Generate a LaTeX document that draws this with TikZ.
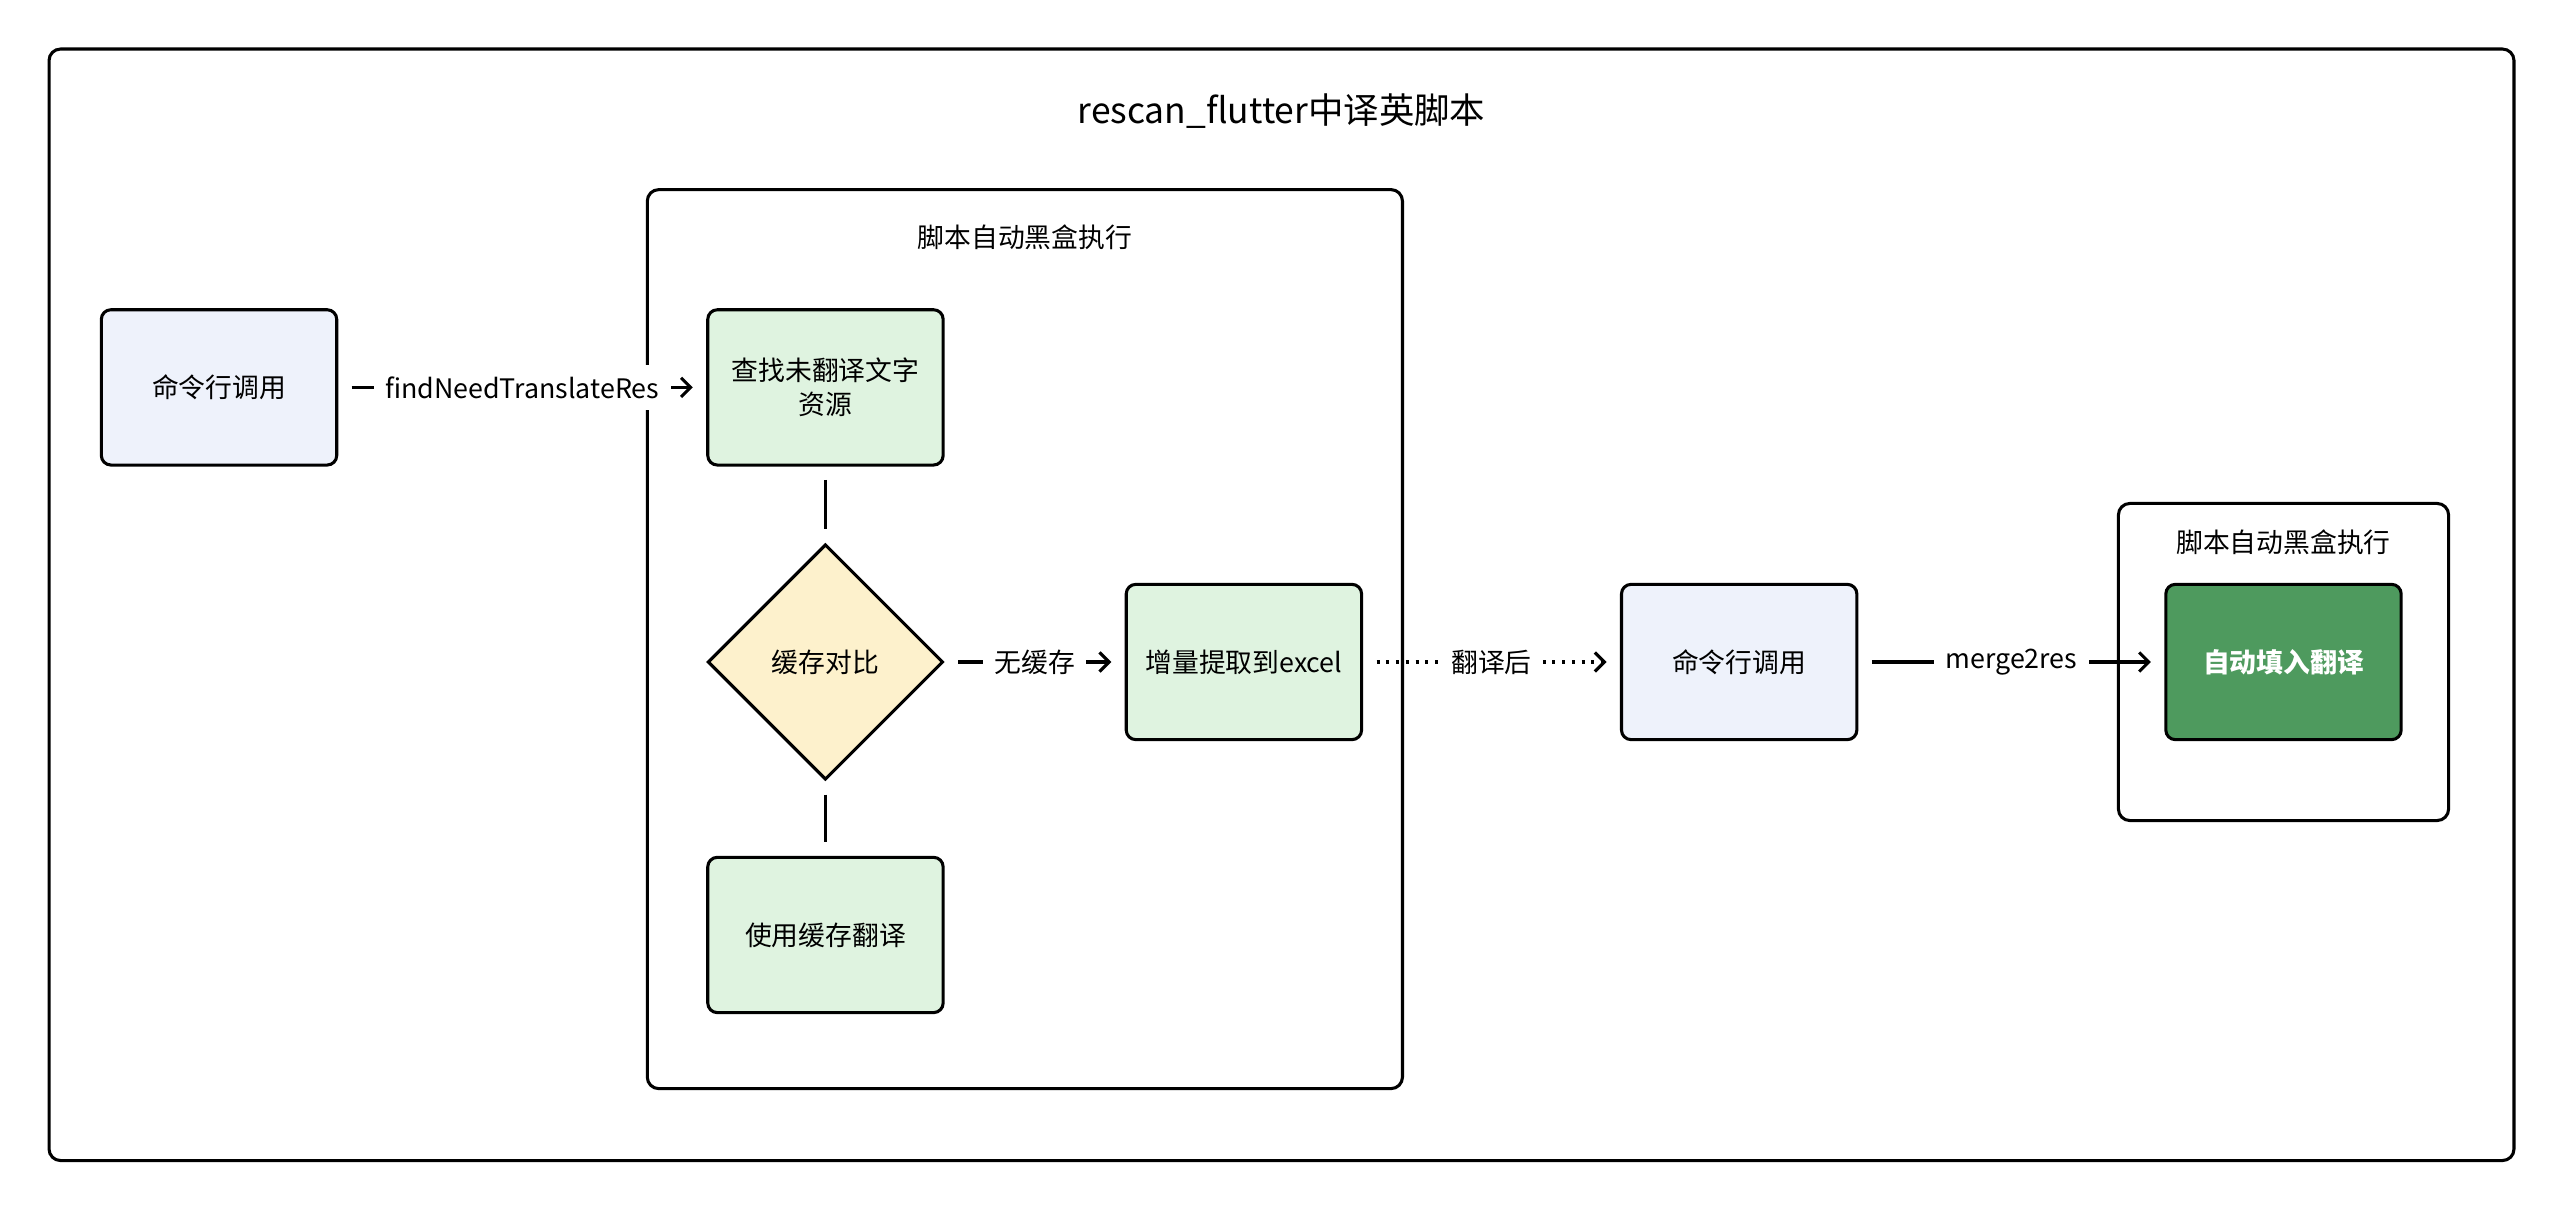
\documentclass[tikz,border=0pt]{standalone}
\usepackage{fontspec}
\setmainfont{Noto Sans CJK SC}
\usetikzlibrary{shapes.geometric, arrows, arrows.meta}
\definecolor{cmdblue}{HTML}{EEF2FB}
\definecolor{stepgreen}{HTML}{DFF3E0}
\definecolor{decyellow}{HTML}{FDF1CC}
\definecolor{darkgreen}{HTML}{4E9A5E}
\tikzstyle{frame} = [rectangle, rounded corners=6pt, draw=black, line width=1.6pt]
\tikzstyle{cmd} = [rectangle, rounded corners=5pt, 
minimum width=4.32cm, 
minimum height=2.85cm, 
text centered, 
draw=black, line width=1.6pt,
fill=cmdblue]
\tikzstyle{process} = [cmd, fill=stepgreen, text width=4cm]
\tikzstyle{decision} = [diamond, 
minimum width=4.32cm, 
minimum height=4.32cm, 
text centered, 
draw=black, line width=1.6pt,
fill=decyellow]
\tikzstyle{link} = [line width=1.6pt, shorten <=7pt, shorten >=7pt]
\tikzstyle{arrow} = [link,-{Straight Barb[length=5pt,width=10pt]}]
\tikzstyle{lbl} = [fill=white, inner sep=6pt]

\begin{document}
\begin{tikzpicture}[x=0.03cm, y=-0.03cm, font=\fontsize{14}{18}\selectfont]
\useasboundingbox (0,0) rectangle (1568,740);
\fill[white] (0,0) rectangle (1568,740);

\draw [frame] (30,30) rectangle (1538,710);
\node (title) at (784,68) {\fontsize{18.5}{22}\selectfont rescan\_flutter中译英脚本};
\draw [frame] (396,116) rectangle (858,666);
\node (grp1) at (627,145) {脚本自动黑盒执行};
\draw [frame] (1296,308) rectangle (1498,502);
\node (grp2) at (1397,332) {脚本自动黑盒执行};

\node (cmd1) [cmd] at (134,237) {命令行调用};
\node (find) [process] at (505,237) {查找未翻译文字\\资源};
\node (cmp) [decision] at (505,405) {缓存对比};
\node (use) [process] at (505,572) {使用缓存翻译};
\node (incr) [process] at (761,405) {增量提取到excel};
\node (cmd2) [cmd] at (1064,405) {命令行调用};
\node (fill) [cmd, fill=darkgreen, text=white, font=\fontsize{14}{18}\selectfont\bfseries] at (1397,405) {自动填入翻译};

\draw [arrow] (cmd1) -- node[lbl] {findNeedTranslateRes} (find);
\draw [link] (find) -- (cmp);
\draw [link] (cmp) -- (use);
\draw [arrow] (cmp) -- node[lbl] {无缓存} (incr);
\draw [arrow, dash pattern=on 1.6pt off 3.5pt] (incr) -- node[lbl] {翻译后} (cmd2);
\draw [arrow] (cmd2) -- node[lbl] {merge2res} (fill);
\end{tikzpicture}
\end{document}
